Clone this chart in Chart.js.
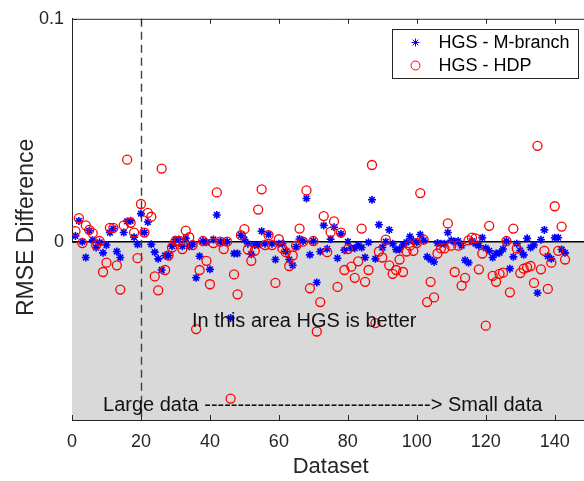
<!DOCTYPE html>
<html>
<head>
<meta charset="utf-8">
<script src="https://cdn.jsdelivr.net/npm/chart.js@4"></script>
<style>
  html, body { margin: 0; padding: 0; background: #fff; }
  #wrap { width: 584px; height: 481px; overflow: hidden; }
</style>
</head>
<body>
<div id="wrap"><canvas id="c" width="595" height="481"></canvas></div>
<script>
// RMSE difference per dataset: HGS vs two baselines (negative = HGS better)
const SERIES_MB = "HGS - M-branch";
const SERIES_HDP = "HGS - HDP";

// dataset 1..143
const diffMBranch = [
  0.0026, 0.0093, 0.0000, -0.0071, 0.0049, 0.0007, -0.0026, -0.0003, -0.0050, -0.0015,
  0.0041, 0.0059, -0.0044, -0.0071, 0.0041, 0.0091, 0.0094, 0.0020, -0.0012, 0.0126,
  0.0041, 0.0088, -0.0012, -0.0047, -0.0077, -0.0127, -0.0062, -0.0062, -0.0020, 0.0009,
  0.0010, -0.0020, 0.0015, -0.0020, -0.0012, -0.0162, -0.0065, 0.0003, -0.0003, -0.0124,
  0.0010, 0.0120, 0.0000, 0.0000, 0.0000, -0.0342, -0.0053, -0.0053, 0.0029, 0.0010,
  -0.0009, -0.0056, -0.0015, -0.0015, 0.0047, -0.0009, 0.0032, -0.0009, -0.0080, -0.0009,
  -0.0009, -0.0044, -0.0080, -0.0106, -0.0023, 0.0012, 0.0003, 0.0194, -0.0059, 0.0003,
  -0.0183, -0.0044, 0.0073, -0.0032, 0.0011, 0.0065, -0.0074, 0.0035, -0.0038, 0.0000,
  -0.0029, -0.0029, -0.0015, -0.0026, -0.0071, -0.0003, 0.0188, -0.0077, 0.0076, -0.0026,
  0.0000, 0.0053, -0.0009, -0.0035, -0.0035, -0.0015, -0.0003, 0.0023, 0.0003, -0.0003,
  0.0032, 0.0006, -0.0068, -0.0080, -0.0091, -0.0006, -0.0009, -0.0009, 0.0041, 0.0006,
  0.0000, 0.0003, -0.0018, -0.0083, -0.0094, 0.0003, -0.0009, -0.0018, 0.0018, -0.0029,
  -0.0041, -0.0071, -0.0053, -0.0050, -0.0033, 0.0003, -0.0121, -0.0068, -0.0009, -0.0040,
  -0.0059, 0.0015, -0.0026, -0.0015, -0.0230, 0.0009, 0.0053, -0.0065, -0.0077, 0.0018,
  0.0018, -0.0035, -0.0050
];
const diffHDP = [
  0.0047, 0.0106, -0.0006, 0.0073, 0.0053, 0.0038, -0.0015, 0.0003, -0.0136, -0.0094,
  0.0062, 0.0062, -0.0106, -0.0215, 0.0073, 0.0368, 0.0085, 0.0041, -0.0074, 0.0169,
  0.0041, 0.0129, 0.0112, -0.0156, -0.0218, 0.0328, -0.0127, -0.0062, -0.0026, 0.0003,
  0.0003, -0.0033, 0.0050, 0.0020, -0.0015, -0.0392, -0.0127, 0.0003, -0.0086, -0.0191,
  -0.0006, 0.0221, 0.0000, -0.0033, 0.0000, -0.0704, -0.0147, -0.0236, 0.0029, 0.0056,
  -0.0035, -0.0086, -0.0041, 0.0144, 0.0235, -0.0015, 0.0029, -0.0015, -0.0185, 0.0011,
  -0.0030, -0.0047, -0.0109, -0.0062, -0.0018, 0.0059, 0.0000, 0.0230, -0.0209, 0.0003,
  -0.0403, -0.0271, 0.0115, -0.0047, 0.0044, 0.0091, -0.0203, 0.0041, -0.0127, -0.0033,
  -0.0112, -0.0162, -0.0088, 0.0059, -0.0180, -0.0127, 0.0344, -0.0365, -0.0044, -0.0071,
  0.0009, -0.0106, -0.0144, -0.0127, -0.0080, -0.0136, -0.0044, -0.0018, -0.0041, -0.0006,
  0.0218, 0.0009, -0.0271, -0.0180, -0.0250, -0.0053, -0.0030, -0.0030, 0.0082, -0.0018,
  -0.0136, -0.0018, -0.0197, -0.0162, 0.0006, 0.0018, 0.0015, -0.0124, -0.0053, -0.0377,
  0.0071, -0.0153, -0.0180, -0.0144, -0.0139, 0.0003, -0.0227, 0.0059, -0.0030, -0.0141,
  -0.0121, -0.0115, -0.0109, -0.0185, 0.0430, -0.0124, -0.0041, -0.0212, -0.0094, 0.0159,
  -0.0041, 0.0068, -0.0080
];

const X_MIN = 0, X_MAX = 150, X_STEP = 20;
const Y_MIN = -0.08, Y_MAX = 0.1, Y_STEP = 0.1;
const Y_TITLE = "RMSE Difference";
const SPLIT_AT = 20; // dashed separator (large vs small data)
const NOTE_BETTER = { text: "In this area HGS is better", x: 34.8, y: -0.036 };
const NOTE_SIZE = { text: "Large data " + "-".repeat(34) + "> Small data", x: 9.0, y: -0.0737 };

const FONT = '"Liberation Sans", Arial, Helvetica, sans-serif';
const AXIS = "#262626";
const BLUE = "#0000ff", RED = "#ff0000";

const toPts = (arr) => arr.map((v, k) => ({ x: k + 1, y: v }));

// gray "HGS better" region, zero line and the dashed split, under the markers
const backdrop = {
  id: "backdrop",
  beforeDatasetsDraw(chart) {
    const { ctx, chartArea: a, scales: { x, y } } = chart;
    const y0 = y.getPixelForValue(0);
    ctx.save();
    ctx.fillStyle = "#d9d9d9";
    ctx.fillRect(a.left, y0, a.right - a.left, a.bottom - y0);
    ctx.strokeStyle = "#000";
    ctx.lineWidth = 1.5;
    ctx.beginPath(); ctx.moveTo(a.left, y0); ctx.lineTo(a.right, y0); ctx.stroke();
    const xs = Math.round(x.getPixelForValue(SPLIT_AT)) + 0.5;
    ctx.strokeStyle = "#404040";
    ctx.lineWidth = 1.4;
    ctx.setLineDash([8, 5]);
    ctx.beginPath(); ctx.moveTo(xs, a.top); ctx.lineTo(xs, a.bottom); ctx.stroke();
    ctx.restore();
  },
};

// matlab-ish frame: inward ticks, top border, notes, boxed legend, y label
const overlay = {
  id: "overlay",
  afterDatasetsDraw(chart) {
    const { ctx, chartArea: a, scales: { x, y } } = chart;
    ctx.save();
    ctx.strokeStyle = AXIS;
    ctx.lineWidth = 1;
    ctx.beginPath();
    ctx.moveTo(a.left, a.top + 0.5); ctx.lineTo(a.right, a.top + 0.5);
    x.ticks.forEach((t) => {
      const p = Math.round(x.getPixelForValue(t.value)) + 0.5;
      ctx.moveTo(p, a.bottom); ctx.lineTo(p, a.bottom - 5);
      ctx.moveTo(p, a.top); ctx.lineTo(p, a.top + 5);
    });
    y.ticks.forEach((t) => {
      const p = Math.round(y.getPixelForValue(t.value)) + 0.5;
      ctx.moveTo(a.left, p); ctx.lineTo(a.left + 5, p);
    });
    ctx.stroke();

    ctx.fillStyle = "#111";
    ctx.font = "20px " + FONT;
    ctx.textAlign = "left";
    ctx.textBaseline = "middle";
    for (const n of [NOTE_BETTER, NOTE_SIZE]) {
      ctx.fillText(n.text, x.getPixelForValue(n.x), y.getPixelForValue(n.y));
    }

    // legend box (northeast)
    const w = 186, h = 49;
    const bx = Math.round(a.right - 11 - w) + 0.5, by = Math.round(a.top + 10) + 0.5;
    ctx.fillStyle = "#fff";
    ctx.fillRect(bx, by, w, h);
    ctx.strokeStyle = AXIS;
    ctx.strokeRect(bx, by, w, h);
    const rows = [
      { label: SERIES_MB, color: BLUE, style: "star", r: 4, bw: 1.5 },
      { label: SERIES_HDP, color: RED, style: "circle", r: 4.5, bw: 1.2 },
    ];
    ctx.font = "18px " + FONT;
    rows.forEach((r, i) => {
      const cy = by + 13 + i * 23;
      ctx.strokeStyle = r.color;
      ctx.fillStyle = "#fff";
      Chart.helpers.drawPoint(ctx, { pointStyle: r.style, radius: r.r, borderWidth: r.bw, rotation: 0 }, bx + 23, cy);
      ctx.fillStyle = "#000";
      ctx.fillText(r.label, bx + 46, cy + 1);
    });

    // y axis label, rotated
    ctx.translate(27, (a.top + a.bottom) / 2 + 8);
    ctx.rotate(-Math.PI / 2);
    ctx.font = "23px " + FONT;
    ctx.fillStyle = AXIS;
    ctx.textAlign = "center";
    ctx.fillText(Y_TITLE, 0, 0);
    ctx.restore();
  },
};

new Chart(document.getElementById("c"), {
  type: "scatter",
  data: {
    datasets: [
      { label: SERIES_HDP, data: toPts(diffHDP), pointStyle: "circle", pointRadius: 4.5, pointBorderWidth: 1.3,
        borderColor: RED, backgroundColor: "rgba(0,0,0,0)", order: 1 },
      { label: SERIES_MB, data: toPts(diffMBranch), pointStyle: "star", pointRadius: 4, pointBorderWidth: 1.6,
        borderColor: BLUE, backgroundColor: BLUE, order: 2 },
    ],
  },
  options: {
    responsive: false,
    animation: false,
    layout: { padding: { top: 13, right: 0, left: 0, bottom: 0 } },
    plugins: { legend: { display: false }, tooltip: { enabled: false } },
    scales: {
      x: {
        type: "linear", min: X_MIN, max: X_MAX,
        grid: { display: false, drawTicks: false },
        border: { display: true, color: AXIS, width: 1 },
        ticks: { stepSize: X_STEP, includeBounds: false, padding: 11, color: AXIS, font: { family: FONT, size: 18 } },
        title: { display: true, text: "Dataset", color: AXIS, font: { family: FONT, size: 22 }, padding: { top: 0, bottom: 1 } },
        afterFit: (s) => { s.height = 61; },
      },
      y: {
        min: Y_MIN, max: Y_MAX,
        grid: { display: false, drawTicks: false },
        border: { display: true, color: AXIS, width: 1 },
        ticks: { stepSize: Y_STEP, includeBounds: false, padding: 8, color: AXIS, font: { family: FONT, size: 18 },
          callback: (v) => String(+v.toFixed(3)) },
        title: { display: false },
        afterFit: (s) => { s.width = 72; },
      },
    },
  },
  plugins: [backdrop, overlay],
});
</script>
</body>
</html>
